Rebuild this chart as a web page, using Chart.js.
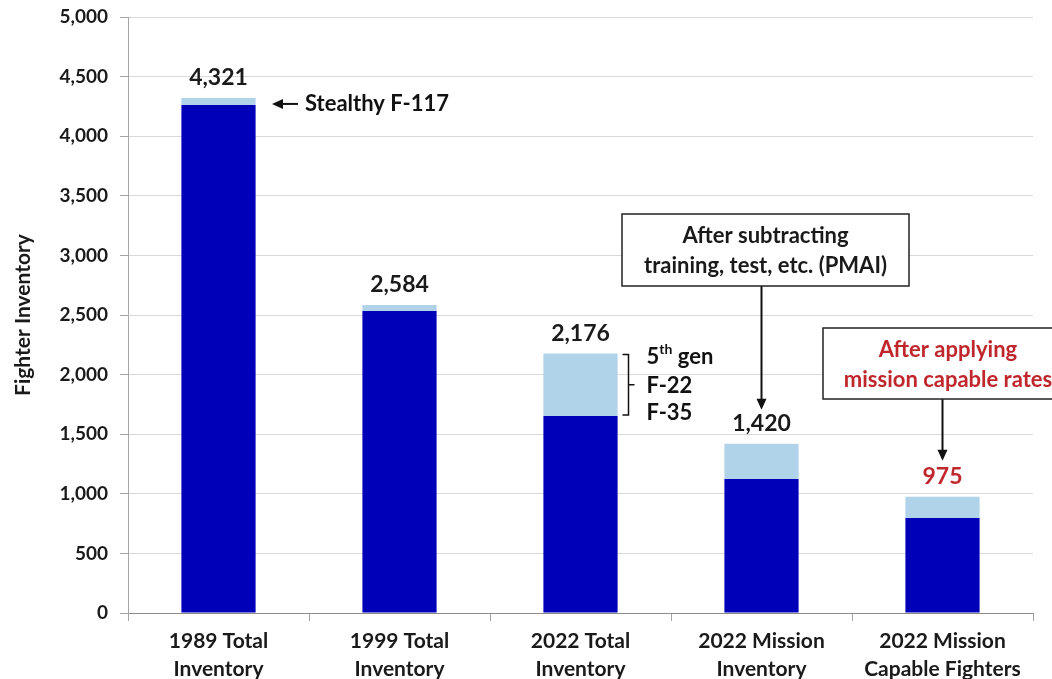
<!DOCTYPE html>
<html>
<head>
<meta charset="utf-8">
<script src="https://cdn.jsdelivr.net/npm/chart.js@4.4.1/dist/chart.umd.min.js"></script>
<style>
  html, body { margin: 0; padding: 0; background: #fff; }
  #wrap { width: 1052px; height: 679px; }
</style>
</head>
<body>
<div id="wrap"><canvas id="barChart" width="1052" height="679"></canvas></div>
<script>
// fighter inventory by stage, split into legacy and stealth / 5th gen
var categories = [
  ['1989 Total', 'Inventory'],
  ['1999 Total', 'Inventory'],
  ['2022 Total', 'Inventory'],
  ['2022 Mission', 'Inventory'],
  ['2022 Mission', 'Capable Fighters']
];
var legacyFighters  = [4262, 2534, 1653, 1124, 797];
var stealthFighters = [59, 50, 523, 296, 178];
var totals          = [4321, 2584, 2176, 1420, 975];
var yTicks          = [0, 500, 1000, 1500, 2000, 2500, 3000, 3500, 4000, 4500, 5000];

var FONT = 'Lato, "Open Sans", sans-serif';
var RED  = '#c0272d';

function arrow(ctx, x1, y1, x2, y2) {
  var ang = Math.atan2(y2 - y1, x2 - x1);
  ctx.beginPath();
  ctx.moveTo(x1, y1);
  ctx.lineTo(x2 - 8 * Math.cos(ang), y2 - 8 * Math.sin(ang));
  ctx.stroke();
  ctx.beginPath();
  ctx.moveTo(x2, y2);
  ctx.lineTo(x2 - 11 * Math.cos(ang) + 5 * Math.sin(ang), y2 - 11 * Math.sin(ang) - 5 * Math.cos(ang));
  ctx.lineTo(x2 - 11 * Math.cos(ang) - 5 * Math.sin(ang), y2 - 11 * Math.sin(ang) + 5 * Math.cos(ang));
  ctx.closePath();
  ctx.fill();
}

function textBox(ctx, left, top, w, h, lines, color) {
  ctx.fillStyle = '#fff';
  ctx.fillRect(left, top, w, h);
  ctx.strokeStyle = '#222';
  ctx.lineWidth = 1.5;
  ctx.strokeRect(left, top, w, h);
  ctx.fillStyle = color;
  ctx.font = 'bold 22px ' + FONT;
  ctx.textAlign = 'center';
  ctx.textBaseline = 'middle';
  var cx = left + w / 2;
  ctx.fillText(lines[0], cx, top + h / 2 - 14);
  ctx.fillText(lines[1], cx, top + h / 2 + 16);
}

var notes = {
  id: 'notes',
  afterDatasetsDraw: function(chart) {
    var ctx = chart.ctx;
    var xs = chart.scales.x, ys = chart.scales.y;
    ctx.save();

    // totals above each bar
    ctx.font = 'bold 23px ' + FONT;
    ctx.textAlign = 'center';
    ctx.textBaseline = 'middle';
    totals.forEach(function(t, i) {
      ctx.fillStyle = i === totals.length - 1 ? RED : '#1a1a1a';
      ctx.fillText(t.toLocaleString('en-US'), xs.getPixelForValue(i), ys.getPixelForValue(t) - 20);
    });

    // F-117 pointer
    ctx.strokeStyle = '#111';
    ctx.fillStyle = '#111';
    ctx.lineWidth = 2;
    var yF = ys.getPixelForValue(totals[0]) + 6;
    arrow(ctx, 298, yF, 272, yF);
    ctx.font = 'bold 22px ' + FONT;
    ctx.textAlign = 'left';
    ctx.fillText('Stealthy F-117', 305, yF);

    // bracket around the 5th gen slice
    var yTop = ys.getPixelForValue(totals[2]);
    var yBot = ys.getPixelForValue(legacyFighters[2]);
    var bx = xs.getPixelForValue(2) + 48;
    var yMid = (yTop + yBot) / 2;
    ctx.lineWidth = 1.5;
    ctx.beginPath();
    ctx.moveTo(bx - 6, yTop + 1);
    ctx.lineTo(bx, yTop + 1);
    ctx.lineTo(bx, yBot - 1);
    ctx.lineTo(bx - 6, yBot - 1);
    ctx.moveTo(bx, yMid);
    ctx.lineTo(bx + 6, yMid);
    ctx.stroke();
    var tx = bx + 18;
    ctx.font = 'bold 22px ' + FONT;
    ctx.fillText('5', tx, yTop + 3);
    var w5 = ctx.measureText('5').width;
    ctx.font = 'bold 14px ' + FONT;
    ctx.fillText('th', tx + w5, yTop - 4);
    var wth = ctx.measureText('th').width;
    ctx.font = 'bold 22px ' + FONT;
    ctx.fillText(' gen', tx + w5 + wth, yTop + 3);
    ctx.fillText('F-22', tx, yMid + 1);
    ctx.fillText('F-35', tx, yBot - 3);

    // callout boxes
    var x3 = xs.getPixelForValue(3), x4 = xs.getPixelForValue(4);
    ctx.lineWidth = 2;
    ctx.strokeStyle = '#111';
    ctx.fillStyle = '#111';
    arrow(ctx, x3, 286, x3, ys.getPixelForValue(totals[3]) - 34);
    arrow(ctx, x4, 399, x4, ys.getPixelForValue(totals[4]) - 36);
    textBox(ctx, 622, 214, 287, 72, ['After subtracting', 'training, test, etc. (PMAI)'], '#1a1a1a');
    textBox(ctx, 823, 328, 250, 71, ['After applying', 'mission capable rates'], RED);

    ctx.restore();
  }
};

new Chart(document.getElementById('barChart'), {
  type: 'bar',
  data: {
    labels: categories,
    datasets: [
      { label: 'Legacy', data: legacyFighters, backgroundColor: '#0000b8', barPercentage: 0.41, categoryPercentage: 1 },
      { label: '5th gen', data: stealthFighters, backgroundColor: '#b0d3ea', barPercentage: 0.41, categoryPercentage: 1 }
    ]
  },
  options: {
    responsive: false,
    animation: false,
    layout: { padding: { top: 17, right: 19, bottom: 0, left: 0 } },
    plugins: { legend: { display: false }, tooltip: { enabled: false } },
    scales: {
      x: {
        stacked: true,
        border: { color: '#8c8c8c', width: 1 },
        grid: { offset: true, drawOnChartArea: false, tickLength: 8, color: '#a6a6a6' },
        ticks: { color: '#1a1a1a', font: { family: FONT, size: 21, weight: 'bold', lineHeight: 1.3 }, padding: 7, maxRotation: 0 },
        afterFit: function(s) { s.height = 66; }
      },
      y: {
        stacked: true,
        min: 0,
        max: 5000,
        afterBuildTicks: function(s) { s.ticks = yTicks.map(function(v) { return { value: v }; }); },
        border: { color: '#a6a6a6', width: 1 },
        grid: { color: '#d9d9d9', tickLength: 8, tickColor: '#a6a6a6' },
        ticks: {
          color: '#1a1a1a',
          font: { family: FONT, size: 19, weight: 'bold' },
          padding: 12,
          callback: function(v) { return v.toLocaleString('en-US'); }
        },
        title: { display: true, text: 'Fighter Inventory', color: '#1a1a1a', font: { family: FONT, size: 21, weight: 'bold' }, padding: { top: 11, bottom: 8 } },
        afterFit: function(s) { s.width = 128; s.paddingTop = 0; s.paddingBottom = 0; }
      }
    }
  },
  plugins: [notes]
});
</script>
</body>
</html>
